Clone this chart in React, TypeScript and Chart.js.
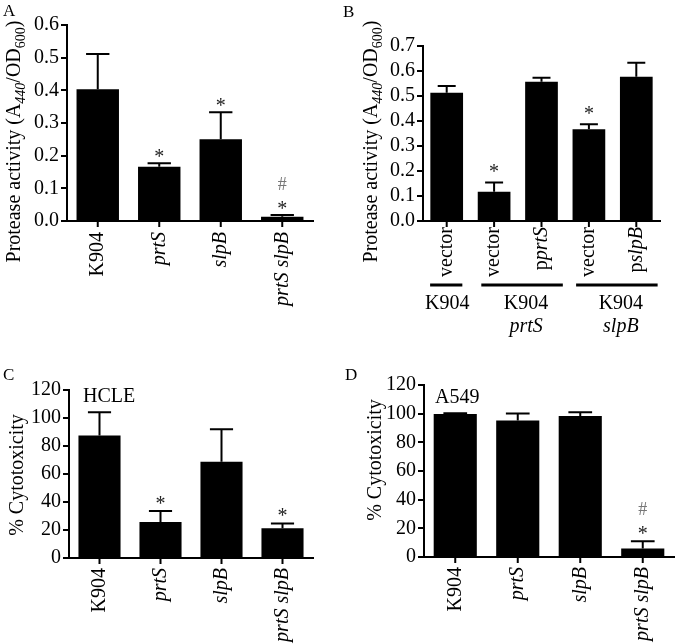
import React, { useEffect, useRef } from 'react';
import { Chart, registerables } from 'chart.js';

Chart.register(...registerables);

const W = 680;
const H = 644;
const SERIF = '"Liberation Serif", "Times New Roman", serif';

// ---- Panel A : protease activity ----
const aCategories = ['K904', '_prtS_', '_slpB_', '_prtS slpB_'];
const aValues = [0.403, 0.166, 0.25, 0.013];
const aSem = [0.108, 0.011, 0.083, 0.005];
const aMarks = ['', '*', '*', '*#'];
const aTicks = { max: 0.6, step: 0.1, decimals: 1 };

// ---- Panel B : complementation ----
const bCategories = ['vector', 'vector', 'p_prtS_', 'vector', 'p_slpB_'];
const bValues = [0.512, 0.117, 0.556, 0.366, 0.576];
const bSem = [0.027, 0.037, 0.016, 0.02, 0.056];
const bMarks = ['', '*', '', '*', ''];
const bTicks = { max: 0.7, step: 0.1, decimals: 1 };
const bGroupNames = ['K904', 'K904', 'K904'];
const bGroupMutants = ['', 'prtS', 'slpB'];
const bGroupRanges = [[0, 0], [1, 2], [3, 4]];

// ---- Panel C : HCLE cytotoxicity ----
const cCategories = ['K904', '_prtS_', '_slpB_', '_prtS slpB_'];
const cValues = [87.5, 25.8, 68.8, 21.2];
const cSem = [16.6, 7.8, 23.2, 3.4];
const cMarks = ['', '*', '', '*'];
const cTicks = { max: 120, step: 20, decimals: 0 };

// ---- Panel D : A549 cytotoxicity ----
const dCategories = ['K904', '_prtS_', '_slpB_', '_prtS slpB_'];
const dValues = [99.7, 95.3, 98.3, 5.9];
const dSem = [0.6, 4.9, 2.7, 5.1];
const dMarks = ['', '', '', '*#'];
const dTicks = { max: 120, step: 20, decimals: 0 };

type Seg = { t: string; it?: boolean; sub?: boolean };

const proteaseTitle: Seg[] = [
  { t: 'Protease activity (A' },
  { t: '440', sub: true, it: true },
  { t: '/OD' },
  { t: '600', sub: true },
  { t: ')' },
];
const cytoTitle: Seg[] = [{ t: '% Cytotoxicity' }];

function parseMarkup(s: string): Seg[] {
  return s
    .split('_')
    .map((t, i) => ({ t, it: i % 2 === 1 }))
    .filter((x) => x.t.length > 0);
}

const FS = 20;
const SUBFS = 14;
function segFont(s: Seg, size = FS) {
  return `${s.it ? 'italic ' : ''}${s.sub ? SUBFS : size}px ${SERIF}`;
}
function richWidth(ctx: CanvasRenderingContext2D, segs: Seg[], size = FS) {
  let w = 0;
  for (const s of segs) {
    ctx.font = segFont(s, size);
    w += ctx.measureText(s.t).width;
  }
  return w;
}
function drawRichAt(ctx: CanvasRenderingContext2D, segs: Seg[], x: number, y: number, size = FS) {
  let cx = x;
  ctx.textAlign = 'left';
  for (const s of segs) {
    ctx.font = segFont(s, size);
    ctx.fillText(s.t, cx, s.sub ? y + 5 : y);
    cx += ctx.measureText(s.t).width;
  }
}

type Panel = {
  letter: string;
  letterPos: [number, number];
  area: { left: number; right: number; top: number; bottom: number };
  categories: string[];
  values: number[];
  sem: number[];
  marks: string[];
  ticks: { max: number; step: number; decimals: number };
  title: Seg[];
  titlePos: [number, number];
  labelOffset: number;
  starGap: number;
  inset?: { text: string; x: number; y: number };
  groups?: boolean;
};

const panels: Panel[] = [
  {
    letter: 'A', letterPos: [3, 16],
    area: { left: 67, right: 313, top: 25, bottom: 221 },
    categories: aCategories, values: aValues, sem: aSem, marks: aMarks, ticks: aTicks,
    title: proteaseTitle, titlePos: [20, 141.5], labelOffset: 11, starGap: 11,
  },
  {
    letter: 'B', letterPos: [343, 17],
    area: { left: 423, right: 660, top: 45.7, bottom: 221 },
    categories: bCategories, values: bValues, sem: bSem, marks: bMarks, ticks: bTicks,
    title: proteaseTitle, titlePos: [377, 141.5], labelOffset: 6, starGap: 15, groups: true,
  },
  {
    letter: 'C', letterPos: [3, 380],
    area: { left: 69, right: 313, top: 390, bottom: 558 },
    categories: cCategories, values: cValues, sem: cSem, marks: cMarks, ticks: cTicks,
    title: cytoTitle, titlePos: [23, 475], labelOffset: 10, starGap: 12,
    inset: { text: 'HCLE', x: 83, y: 402 },
  },
  {
    letter: 'D', letterPos: [345, 380],
    area: { left: 424, right: 674, top: 385, bottom: 557 },
    categories: dCategories, values: dValues, sem: dSem, marks: dMarks, ticks: dTicks,
    title: cytoTitle, titlePos: [381, 460], labelOffset: 10, starGap: 12,
    inset: { text: 'A549', x: 435, y: 403 },
  },
];

const YW = 60;

function panelPlugin(p: Panel) {
  return {
    id: 'panelDecor' + p.letter,
    afterDatasetsDraw(chart: any) {
      const ctx: CanvasRenderingContext2D = chart.ctx;
      const meta = chart.getDatasetMeta(0);
      const yS = chart.scales.y;
      const xS = chart.scales.x;
      const bottom = chart.chartArea.bottom;
      ctx.save();
      ctx.strokeStyle = '#000';
      ctx.lineWidth = 2;
      meta.data.forEach((bar: any, i: number) => {
        const top = yS.getPixelForValue(p.values[i] + p.sem[i]);
        const base = yS.getPixelForValue(p.values[i]);
        const cap = bar.width * 0.55;
        ctx.beginPath();
        ctx.moveTo(bar.x, base);
        ctx.lineTo(bar.x, top);
        ctx.moveTo(bar.x - cap / 2, top);
        ctx.lineTo(bar.x + cap / 2, top);
        ctx.stroke();
        const m = p.marks[i];
        if (m) {
          const starC = top - p.starGap;
          if (m.includes('*')) {
            ctx.fillStyle = '#222';
            ctx.font = `20px ${SERIF}`;
            ctx.textAlign = 'center';
            ctx.textBaseline = 'alphabetic';
            ctx.fillText('*', bar.x, starC + 10.6);
          }
          if (m.includes('#')) {
            ctx.fillStyle = '#777';
            ctx.font = `18px ${SERIF}`;
            ctx.textAlign = 'center';
            ctx.textBaseline = 'alphabetic';
            ctx.fillText('#', bar.x, starC - 14);
          }
        }
      });
      ctx.strokeStyle = '#000';
      ctx.lineWidth = 2;
      p.categories.forEach((_, i) => {
        const x = xS.getPixelForValue(i);
        ctx.beginPath();
        ctx.moveTo(x, bottom);
        ctx.lineTo(x, bottom + 6);
        ctx.stroke();
      });
      ctx.fillStyle = '#000';
      p.categories.forEach((lab, i) => {
        const x = xS.getPixelForValue(i);
        const segs = parseMarkup(lab);
        const w = richWidth(ctx, segs);
        ctx.save();
        ctx.translate(x, bottom + p.labelOffset);
        ctx.rotate(-Math.PI / 2);
        ctx.textBaseline = 'middle';
        drawRichAt(ctx, segs, -w, 0);
        ctx.restore();
      });
      if (p.groups) {
        const cw = xS.getPixelForValue(1) - xS.getPixelForValue(0);
        bGroupRanges.forEach((r, g) => {
          const single = r[0] === r[1];
          const x0 = xS.getPixelForValue(r[0]) - (single ? 0.35 : 0.27) * cw;
          const x1 = xS.getPixelForValue(r[1]) + (single ? 0.33 : 0.45) * cw;
          ctx.strokeStyle = '#000';
          ctx.lineWidth = 3;
          ctx.beginPath();
          ctx.moveTo(x0, bottom + 64);
          ctx.lineTo(x1, bottom + 64);
          ctx.stroke();
          const mid = (x0 + x1) / 2 + (single ? 1 : 4);
          ctx.fillStyle = '#000';
          ctx.textAlign = 'center';
          ctx.textBaseline = 'alphabetic';
          ctx.font = `20px ${SERIF}`;
          ctx.fillText(bGroupNames[g], mid, bottom + 88);
          if (bGroupMutants[g]) {
            ctx.font = `italic 20px ${SERIF}`;
            ctx.fillText(bGroupMutants[g], mid, bottom + 111);
          }
        });
      }
      {
        const w = richWidth(ctx, p.title);
        ctx.save();
        ctx.translate(p.titlePos[0], p.titlePos[1]);
        ctx.rotate(-Math.PI / 2);
        ctx.fillStyle = '#000';
        ctx.textBaseline = 'alphabetic';
        drawRichAt(ctx, p.title, -w / 2, 0);
        ctx.restore();
      }
      ctx.fillStyle = '#000';
      ctx.textAlign = 'left';
      ctx.textBaseline = 'alphabetic';
      ctx.font = `17px ${SERIF}`;
      ctx.fillText(p.letter, p.letterPos[0], p.letterPos[1]);
      if (p.inset) {
        ctx.font = `20px ${SERIF}`;
        ctx.fillText(p.inset.text, p.inset.x, p.inset.y);
      }
      ctx.restore();
    },
  };
}

function makeConfig(p: Panel): any {
  return {
    type: 'bar',
    data: {
      labels: p.categories,
      datasets: [
        {
          data: p.values,
          backgroundColor: '#000',
          borderWidth: 0,
          barPercentage: 0.69,
          categoryPercentage: 1,
        },
      ],
    },
    options: {
      responsive: false,
      animation: false,
      layout: {
        padding: {
          left: p.area.left - YW,
          right: W - p.area.right,
          top: p.area.top,
          bottom: H - p.area.bottom,
        },
      },
      plugins: { legend: { display: false }, tooltip: { enabled: false } },
      scales: {
        x: {
          grid: { display: false },
          border: { display: true, color: '#000', width: 2 },
          ticks: { display: false },
          afterFit: (s: any) => {
            s.height = 0;
          },
        },
        y: {
          min: 0,
          max: p.ticks.max,
          ticks: {
            stepSize: p.ticks.step,
            autoSkip: false,
            maxTicksLimit: 50,
            color: '#000',
            padding: 2,
            font: { family: SERIF, size: 20, lineHeight: 1 },
            callback: (v: any) => Number(v).toFixed(p.ticks.decimals),
          },
          grid: { drawOnChartArea: false, drawTicks: true, tickLength: 6, color: '#000', lineWidth: 2 },
          border: { display: true, color: '#000', width: 2 },
          afterFit: (s: any) => {
            s.width = YW;
          },
        },
      },
    },
    plugins: [panelPlugin(p)],
  };
}

export default function App() {
  const refs = useRef<(HTMLCanvasElement | null)[]>([]);
  useEffect(() => {
    const charts = panels.map((p, i) => new Chart(refs.current[i] as HTMLCanvasElement, makeConfig(p)));
    return () => charts.forEach((c) => c.destroy());
  }, []);
  return (
    <div style={{ position: 'fixed', left: 0, top: 0, width: W, height: H, background: '#fff' }}>
      {panels.map((p, i) => (
        <canvas
          key={p.letter}
          ref={(el) => {
            refs.current[i] = el;
          }}
          width={W}
          height={H}
          style={{ position: 'absolute', left: 0, top: 0, width: W, height: H }}
        />
      ))}
    </div>
  );
}
